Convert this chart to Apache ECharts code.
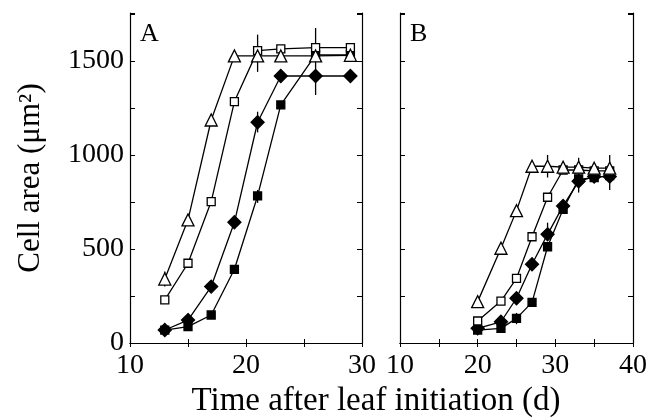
<!DOCTYPE html>
<html><head><meta charset="utf-8">
<script src="https://cdn.jsdelivr.net/npm/echarts@6/dist/echarts.min.js"></script>
<style>html,body{margin:0;padding:0;background:#fff}#c{width:650px;height:419px}</style>
</head><body><div id="c"></div>
<script>
// Panel A data [day, cell area]
const aOpenTri = [[13,340],[15,655],[17,1186],[19,1527],[21,1527],[23,1527],[26,1527],[29,1530]];
const aOpenSq  = [[13,229],[15,424],[17,752],[19,1284],[21,1555],[23,1564],[26,1571],[29,1571]];
const aDiamond = [[13,69],[15,122],[17,300],[19,642],[21,1174],[23,1420],[26,1420],[29,1420]];
const aFilledSq= [[13,69],[15,87],[17,149],[19,392],[21,782],[23,1266],[26,1532],[29,1532]];
// Panel B data
const bOpenTri = [[20,220],[23,504],[25,704],[27,940],[29,940],[31,935],[33,935],[35,930],[37,930]];
const bOpenSq  = [[20,117],[23,223],[25,344],[27,565],[29,775],[31,920],[33,920],[35,915],[37,915]];
const bDiamond = [[20,78],[23,113],[25,238],[27,419],[29,578],[31,729],[33,860],[35,885],[37,885]];
const bFilledSq= [[20,69],[23,78],[25,131],[27,216],[29,512],[31,711],[33,870],[35,880],[37,890]];
// Error bars [day, low, high]
const aErr = [[21,1442,1640],[26,1319,1675],[21,1120,1230],[21,745,814],[13,300,380]];
const bErr = [[29,880,1000],[33,800,985],[37,814,1000],[29,560,640],[27,390,450],[25,100,160]];
const xTicksA = [10,20,30];
const xTicksB = [10,20,30,40];
const yTicks = [0,500,1000,1500];

const serif = 'Liberation Serif';
const lab = {fontFamily: serif, fontSize: 28, color: '#000'};
const axLine = {show:true, lineStyle:{color:'#000', width:1.2}};
function xAx(grid, min, max, ticks, pos, showLab){
  return {type:'value', gridIndex:grid, min:min, max:max, interval:5, position:pos,
    axisLine:axLine, axisTick:{show:true, inside:true, length:4, lineStyle:{color:'#000'}},
    axisLabel:{show:showLab, ...lab, margin:9, formatter:v=>ticks.includes(v)?String(v):''},
    splitLine:{show:false}};
}
function yAx(grid, pos, showLab){
  return {type:'value', gridIndex:grid, min:0, max:1755, interval:250, position:pos,
    axisLine:axLine, axisTick:{show:true, inside:true, length:5, lineStyle:{color:'#000'}},
    axisLabel:{show:showLab, ...lab, margin:6, formatter:v=>yTicks.includes(v)?String(v):''},
    splitLine:{show:false},
    name: showLab ? 'Cell area (μm²)' : '', nameLocation:'middle', nameGap:84,
    nameTextStyle:{fontFamily:serif, fontSize:31, color:'#000'}};
}
const tri = 'path://M0,10 L5,0 L10,10 Z';
function line(data, xi, yi, symbol, size, fill){
  return {type:'line', data:data, xAxisIndex:xi, yAxisIndex:yi, symbol:symbol, symbolSize:size,
    showAllSymbol:true, lineStyle:{color:'#000', width:1.3},
    itemStyle:{color:fill, borderColor:'#000', borderWidth:1.3}, z:3, animation:false};
}
function errs(data, xi, yi){
  return {type:'custom', xAxisIndex:xi, yAxisIndex:yi, data:data, z:2, animation:false,
    renderItem:function(params, api){
      const p1 = api.coord([api.value(0), api.value(1)]);
      const p2 = api.coord([api.value(0), api.value(2)]);
      return {type:'line', shape:{x1:p1[0], y1:p1[1], x2:p2[0], y2:p2[1]}, style:{stroke:'#000', lineWidth:1.3}};
    }};
}
const chart = echarts.init(document.getElementById('c'));
chart.setOption({
  backgroundColor:'#fff',
  grid:[{left:130, top:13, width:232, height:330},{left:400, top:13, width:234, height:330}],
  xAxis:[xAx(0,10,30,xTicksA,'bottom',true), xAx(0,10,30,xTicksA,'top',false),
         xAx(1,10,40,xTicksB,'bottom',true), xAx(1,10,40,xTicksB,'top',false)],
  yAxis:[yAx(0,'left',true), yAx(0,'right',false), yAx(1,'left',false), yAx(1,'right',false)],
  graphic:[
    {type:'text', left:140, top:21, style:{text:'A', font:'26px "Liberation Serif"', fill:'#000'}},
    {type:'text', left:410, top:21, style:{text:'B', font:'26px "Liberation Serif"', fill:'#000'}},
    {type:'text', x:376, y:401, style:{text:'Time after leaf initiation (d)', font:'33px "Liberation Serif"', fill:'#000', textAlign:'center', textVerticalAlign:'middle'}}
  ],
  series:[
    errs(aErr,0,0),
    line(aFilledSq,0,0,'rect',8,'#000'),
    line(aDiamond,0,0,'diamond',13,'#000'),
    line(aOpenSq,0,0,'rect',8,'#fff'),
    line(aOpenTri,0,0,tri,12,'#fff'),
    errs(bErr,2,2),
    line(bFilledSq,2,2,'rect',8,'#000'),
    line(bDiamond,2,2,'diamond',13,'#000'),
    line(bOpenSq,2,2,'rect',8,'#fff'),
    line(bOpenTri,2,2,tri,12,'#fff')
  ]
});
</script></body></html>
